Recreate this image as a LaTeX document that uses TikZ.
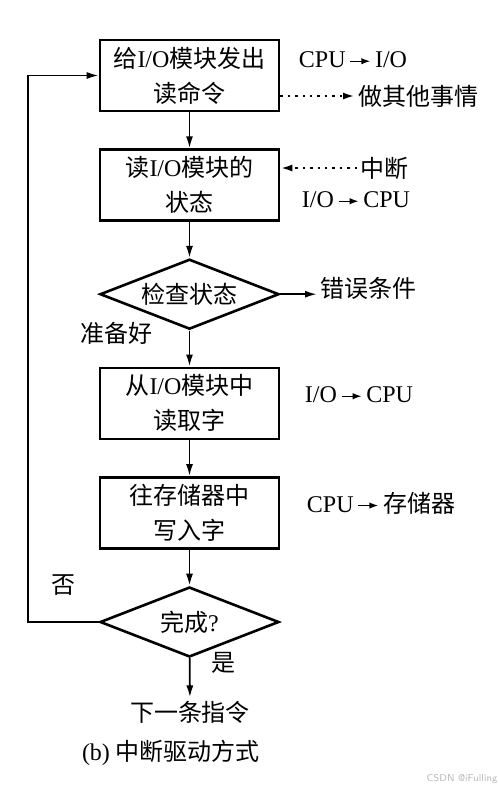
\documentclass[tikz,border=0pt]{standalone}
\usepackage{fontspec}
\setmainfont{Liberation Serif}
\newfontfamily\cjk{Noto Sans CJK SC}
\usetikzlibrary{shapes.geometric, positioning, arrows.meta}
\newcommand{\zh}[1]{{\cjk #1}}
\newcommand{\sendto}{\,\tikz[baseline=-0.6ex]\draw[line width=0.7pt, -{Latex[length=4.5pt, width=3.2pt]}] (0pt,0pt) -- (10pt,0pt);\,}

\begin{document}
\begin{tikzpicture}[x=0.5pt, y=-0.5pt,
    every node/.style={font=\fontsize{12}{17.5}\selectfont},
    Box/.style={draw, line width=1.3pt, minimum width=89.5pt, minimum height=35.5pt, align=center, inner sep=0pt},
    Decision/.style={draw, diamond, aspect=2.56, line width=1.3pt, minimum width=89.5pt, minimum height=35pt, inner sep=0pt},
    Note/.style={inner sep=1.5pt},
    Flow/.style={line width=0.9pt, -{Latex[length=6pt, width=3.5pt]}},
    Signal/.style={Flow, line width=1.2pt, dash pattern=on 1.2pt off 2.5pt},
    node distance=18pt]
    % Fix the page size
    \useasboundingbox (0,0) rectangle (498,789);

    % Draw the steps of the loop
    \node[Box] (Issue) at (189.5,75.5) {\zh{给}I/O\zh{模块发出}\\\zh{读命令}};
    \node[Box, below=of Issue] (Status) {\zh{读}I/O\zh{模块的}\\\zh{状态}};
    \node[Decision, below=of Status] (Check) {\zh{检查状态}};
    \node[Box, below=of Check] (Read) {\zh{从}I/O\zh{模块中}\\\zh{读取字}};
    \node[Box, below=of Read] (Write) {\zh{往存储器中}\\\zh{写入字}};
    \node[Decision, below=of Write] (Done) {\zh{完成}?};

    % Optional: the side notes
    \node[Note] (CpuIo) at (353,60) {CPU\sendto I/O};
    \node[Note, anchor=west] (Other) at (355,96) {\zh{做其他事情}};
    \node[Note, anchor=west] (Interrupt) at (357,168) {\zh{中断}};
    \node[Note] (IoCpu) at (356,200) {I/O\sendto CPU};
    \node[Note, anchor=west] (Error) at (317,288) {\zh{错误条件}};
    \node[Note] (Ready) at (117,333) {\zh{准备好}};
    \node[Note] (IoCpuB) at (359,395) {I/O\sendto CPU};
    \node[Note] (CpuMem) at (381,503) {CPU\sendto\zh{存储器}};
    \node[Note] (No) at (63,585) {\zh{否}};
    \node[Note] (Yes) at (224,663) {\zh{是}};
    \node[Note] (Next) at (190,712) {\zh{下一条指令}};
    \node[Note] (Caption) at (171,753) {(b) \zh{中断驱动方式}};
    \node[text=gray!55, font=\sffamily\fontsize{5}{6}\selectfont] (Mark) at (462,779) {CSDN @iFulling};

    % Connect the steps
    \foreach \a/\b in {Issue/Status, Status/Check, Check/Read, Read/Write, Write/Done, Done/Next}
        \draw[Flow] (\a) -- (\b);
    \draw[Flow] (Check.east) -- (Check.east -| Error.west);
    \draw[Flow] (Done.west) -- ++(-71,0) |- (Issue.west);
    \draw[Signal] (Issue.east |- Other) -- (Other.west);
    \draw[Signal] (Interrupt.west) -- (Status.east |- Interrupt);
\end{tikzpicture}
\end{document}
